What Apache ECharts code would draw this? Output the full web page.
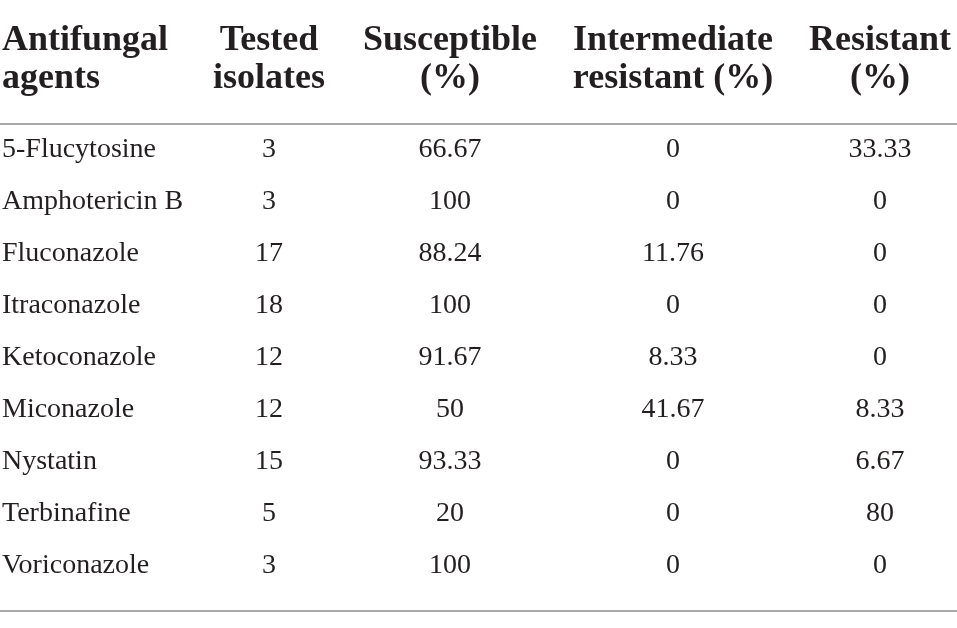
<!DOCTYPE html>
<html>
<head>
<meta charset="utf-8">
<script src="https://cdn.jsdelivr.net/npm/echarts@6/dist/echarts.min.js"></script>
<style>
  html, body { margin: 0; padding: 0; background: #fff; }
  #table-box { width: 957px; height: 628px; }
</style>
</head>
<body>
<div id="table-box"></div>
<script>
// 表格資料
var headers = ['Antifungal\nagents', 'Tested\nisolates', 'Susceptible\n(%)', 'Intermediate\nresistant (%)', 'Resistant\n(%)'];
var agents = ['5-Flucytosine', 'Amphotericin B', 'Fluconazole', 'Itraconazole', 'Ketoconazole', 'Miconazole', 'Nystatin', 'Terbinafine', 'Voriconazole'];
var tested = [3, 3, 17, 18, 12, 12, 15, 5, 3];
var susceptible = [66.67, 100, 88.24, 100, 91.67, 50, 93.33, 20, 100];
var intermediate = [0, 0, 11.76, 0, 8.33, 41.67, 0, 0, 0];
var resistant = [33.33, 0, 0, 0, 0, 8.33, 6.67, 80, 0];

tableChart();

function tableChart() {
    var chartDom = document.getElementById('table-box');
    var myChart = echarts.init(chartDom);
    var option;

    // 欄位錨點 (x 軸座標)，第一欄靠左，其餘置中
    var colX = [2, 269, 450, 673, 880];
    var headerRow = -1.74; // 表頭在 y 軸上的位置 (資料列以上)
    var font = '"Liberation Serif", "DejaVu Serif", serif';
    var textColor = '#231f20';
    var ruleColor = '#8c8c8c';

    var columns = [agents, tested, susceptible, intermediate, resistant];

    var series = columns.map(function (col, c) {
        return {
            type: 'scatter',
            symbolSize: 0,
            clip: false,
            silent: true,
            itemStyle: { opacity: 1 },
            data: col.map(function (v, r) { return [colX[c], r, v]; }),
            label: {
                show: true,
                position: 'inside',
                align: c === 0 ? 'left' : 'center',
                verticalAlign: 'middle',
                fontFamily: font,
                fontSize: 28,
                color: textColor,
                opacity: 1,
                formatter: function (p) { return String(p.value[2]); }
            }
        };
    });

    // 表頭
    series.push({
        type: 'scatter',
        symbolSize: 0,
        clip: false,
        silent: true,
        itemStyle: { opacity: 1 },
        data: headers.map(function (h, c) {
            return {
                value: [colX[c], headerRow, h],
                label: { align: c === 0 ? 'left' : 'center' }
            };
        }),
        label: {
            show: true,
            position: 'inside',
            verticalAlign: 'middle',
            fontFamily: font,
            fontWeight: 'bold',
            fontSize: 36,
            lineHeight: 38,
            color: textColor,
            opacity: 1,
            formatter: function (p) { return p.value[2]; }
        }
    });

    option = {
        backgroundColor: '#ffffff',
        animation: false,
        grid: { left: 0, right: 0, top: 124, bottom: 17 },
        xAxis: [
            {
                type: 'value', min: 0, max: 957, position: 'top',
                axisLine: { show: true, onZero: false, lineStyle: { color: ruleColor, width: 1.5 } },
                axisTick: { show: false }, axisLabel: { show: false }, splitLine: { show: false }
            },
            {
                type: 'value', min: 0, max: 957, position: 'bottom',
                axisLine: { show: true, onZero: false, lineStyle: { color: ruleColor, width: 1.5 } },
                axisTick: { show: false }, axisLabel: { show: false }, splitLine: { show: false }
            }
        ],
        yAxis: {
            type: 'value', inverse: true, min: -0.5, max: 8.88,
            axisLine: { show: false }, axisTick: { show: false },
            axisLabel: { show: false }, splitLine: { show: false }
        },
        series: series
    };

    option && myChart.setOption(option);
}
</script>
</body>
</html>
